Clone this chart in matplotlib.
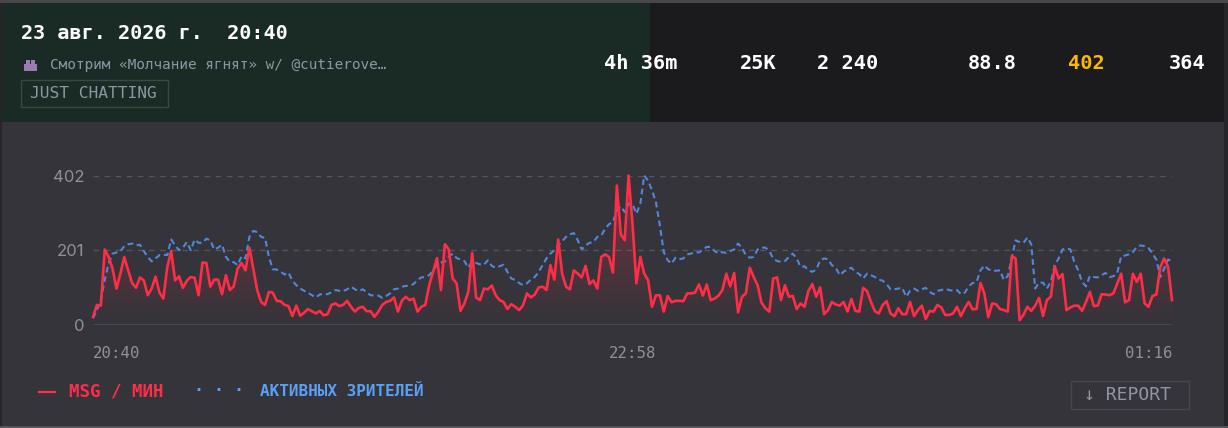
import numpy as np
import matplotlib
matplotlib.use("Agg")
import matplotlib.pyplot as plt
from matplotlib.patches import Rectangle

# messages per minute, one value per minute of the stream
msg_per_min = [
    22, 54, 52, 203, 183, 152, 98, 138, 183, 147, 113, 100, 128, 120, 80, 98, 130, 87, 71, 156,
    199, 120, 131, 100, 119, 129, 127, 80, 168, 167, 103, 122, 122, 83, 134, 94, 104, 152, 167, 147,
    208, 152, 94, 62, 54, 89, 87, 65, 64, 54, 51, 24, 52, 25, 33, 43, 37, 31, 38, 26,
    29, 54, 58, 51, 54, 65, 49, 36, 46, 49, 37, 37, 22, 36, 54, 62, 65, 74, 36, 65,
    76, 67, 71, 36, 49, 54, 107, 143, 180, 94, 217, 204, 125, 112, 38, 58, 89, 194, 74, 67,
    98, 96, 106, 80, 67, 62, 43, 56, 49, 40, 53, 85, 74, 82, 101, 103, 94, 161, 122, 230,
    138, 103, 96, 147, 138, 128, 159, 110, 120, 98, 183, 190, 183, 141, 375, 244, 228, 402, 272, 112,
    183, 138, 120, 49, 80, 80, 36, 78, 61, 65, 65, 64, 85, 85, 87, 109, 79, 109, 67, 71,
    79, 94, 138, 104, 140, 34, 76, 85, 154, 129, 107, 60, 45, 36, 125, 128, 67, 107, 76, 78,
    43, 58, 49, 92, 110, 76, 101, 29, 40, 62, 55, 52, 62, 36, 70, 38, 36, 100, 91, 62,
    37, 31, 54, 64, 31, 24, 45, 29, 29, 62, 24, 40, 52, 16, 38, 36, 54, 47, 27, 27,
    31, 49, 24, 45, 62, 42, 43, 113, 85, 21, 58, 56, 43, 40, 36, 185, 179, 13, 27, 49,
    38, 52, 73, 24, 67, 76, 158, 125, 137, 40, 47, 52, 52, 38, 62, 89, 51, 52, 83, 82,
    80, 85, 112, 138, 61, 67, 138, 116, 138, 58, 49, 78, 82, 156, 179, 156, 67,
]

# active viewers, drawn on the same scale as the messages
viewers = [
    18, 40, 67, 121, 165, 192, 195, 198, 212, 217, 219, 214, 216, 199, 183, 171, 179, 188, 189, 188,
    230, 214, 201, 208, 223, 201, 230, 221, 221, 232, 228, 203, 208, 216, 183, 170, 169, 161, 185, 179,
    237, 253, 250, 237, 234, 183, 150, 149, 143, 136, 141, 119, 107, 98, 92, 87, 80, 74, 82, 83,
    83, 88, 94, 92, 91, 96, 103, 96, 91, 96, 88, 80, 79, 79, 73, 78, 85, 96, 98, 103,
    105, 106, 110, 121, 128, 129, 134, 146, 163, 168, 171, 183, 192, 180, 176, 172, 154, 170, 167, 163,
    162, 174, 159, 154, 158, 162, 143, 125, 121, 113, 107, 112, 122, 129, 143, 161, 179, 192, 201, 214,
    225, 237, 244, 247, 228, 203, 214, 221, 223, 237, 240, 259, 271, 277, 308, 319, 304, 326, 326, 299,
    326, 402, 388, 362, 330, 268, 196, 174, 165, 181, 177, 179, 190, 192, 196, 195, 203, 210, 210, 199,
    192, 196, 194, 199, 203, 219, 208, 188, 181, 183, 203, 208, 208, 199, 179, 172, 170, 172, 183, 192,
    179, 156, 158, 147, 143, 149, 174, 179, 177, 161, 154, 134, 143, 150, 154, 143, 137, 125, 138, 134,
    129, 122, 119, 110, 96, 96, 98, 100, 76, 92, 98, 92, 96, 100, 89, 83, 92, 94, 97, 94,
    92, 94, 83, 87, 104, 113, 115, 147, 160, 150, 146, 146, 147, 121, 132, 179, 228, 223, 221, 235,
    217, 98, 114, 114, 98, 116, 161, 179, 203, 206, 203, 170, 147, 116, 104, 132, 129, 128, 134, 140,
    129, 131, 140, 185, 187, 190, 196, 210, 214, 212, 207, 192, 176, 129, 152, 176, 172,
]

minutes = np.arange(len(msg_per_min))
y_ticks = [0, 201, 402]
y_tick_labels = ["0", "201", "402"]
x_ticks = [0, 138, 276]
x_tick_labels = ["20:40", "22:58", "01:16"]

stat_labels = ["4h 36m", "25K", "2 240", "88.8", "402", "364"]
stat_right_px = [677, 777, 878, 1017, 1105, 1205]
stat_colors = ["#ffffff", "#ffffff", "#ffffff", "#ffffff", "#ffb800", "#ffffff"]

MONO = "DejaVu Sans Mono"
W, H = 1228, 428

fig = plt.figure(figsize=(W / 100, H / 100), dpi=100, facecolor="#35343a")

# page layer, in pixels, y going down
bg = fig.add_axes([0, 0, 1, 1], zorder=0)
bg.set_xlim(0, W)
bg.set_ylim(H, 0)
bg.axis("off")
bg.add_patch(Rectangle((0, 0), W, 122, color="#1b1b1d", lw=0))
bg.add_patch(Rectangle((0, 0), 650, 122, color="#1a2b26", lw=0))
bg.add_patch(Rectangle((0, 0), W, 2.5, color="#48484c", lw=0))
bg.add_patch(Rectangle((0, 2.5), 1.5, H, color="#26262a", lw=0))
bg.add_patch(Rectangle((1224, 2.5), 4, H, color="#26262a", lw=0))
bg.add_patch(Rectangle((0, 426), W, 2, color="#55545c", lw=0))

bg.text(21, 33, "23 авг. 2026 г.  20:40", family=MONO, weight="bold", fontsize=14.5,
        color="#ffffff", va="center")
# small purple icon in front of the title
bg.add_patch(Rectangle((24, 64), 13, 7, color="#9c7bb5", lw=0))
bg.add_patch(Rectangle((26, 60), 4, 4, color="#9c7bb5", lw=0))
bg.add_patch(Rectangle((31, 60), 4, 4, color="#9c7bb5", lw=0))
bg.text(50, 65, "Смотрим «Молчание ягнят» w/ @cutierove…", family=MONO, fontsize=10.4,
        color="#8d97a3", va="center")
bg.add_patch(Rectangle((20.5, 79.5), 147, 27, fill=False, ec="#3b4744", lw=1))
bg.text(30, 93, "JUST CHATTING", family=MONO, fontsize=11.7, color="#8d97a3", va="center")

for label, right, color in zip(stat_labels, stat_right_px, stat_colors):
    bg.text(right, 63, label, family=MONO, weight="bold", fontsize=14.6, color=color,
            ha="right", va="center")

# legend and button
bg.plot([39, 55], [391.5, 391.5], color="#ff2d46", lw=1.6)
bg.text(69, 391, "MSG / МИН", family=MONO, weight="bold", fontsize=12.6, color="#ff2d46", va="center")
bg.text(194, 391, "· · ·", family=MONO, weight="bold", fontsize=12, color="#5aa0f5",
        va="center")
bg.text(260, 391, "АКТИВНЫХ ЗРИТЕЛЕЙ", family=MONO, weight="bold", fontsize=11.5, color="#5aa0f5",
        va="center")
bg.add_patch(Rectangle((1071, 380.5), 118, 28, fill=False, ec="#47464d", lw=1))
bg.text(1084, 394.5, "↓ REPORT", family=MONO, fontsize=13, color="#8d97a3", va="center")

# chart: 93..1172 px wide, value 0 at y=325 and 402 at y=175.5
ax = fig.add_axes([93 / W, (H - 325) / H, 1079 / W, 149.5 / H], zorder=1)
ax.patch.set_alpha(0)
for s in ax.spines.values():
    s.set_visible(False)
ax.set_xlim(0, minutes[-1])
ax.set_ylim(0, 402)

ax.set_yticks(y_ticks, y_tick_labels)
ax.set_xticks(x_ticks, x_tick_labels)
ax.tick_params(length=0, labelcolor="#8f9099")
ax.tick_params(axis="y", pad=6, labelsize=12)
ax.tick_params(axis="x", pad=15, labelsize=11.3)
for tick, ha in zip(ax.get_xticklabels(), ["left", "center", "right"]):
    tick.set_ha(ha)
    tick.set_family(MONO)
for tick in ax.get_yticklabels():
    tick.set_family("Inter")

ax.axhline(201, color="#55545a", lw=1, dashes=(4, 4))
ax.axhline(402, color="#55545a", lw=1, dashes=(4, 4))
ax.axhline(0, color="#47464c", lw=1.6)

# red gradient under the messages line
grad = np.zeros((256, 2, 4))
grad[..., :3] = matplotlib.colors.to_rgb("#ff2d46")
grad[..., 3] = np.linspace(0.32, 0.0, 256)[:, None]
im = ax.imshow(grad, extent=(0, minutes[-1], 0, 402), aspect="auto", origin="upper", zorder=1)
fill = ax.fill_between(minutes, msg_per_min, 0, color="none", lw=0)
im.set_clip_path(fill.get_paths()[0], transform=ax.transData)

ax.plot(minutes, viewers, color="#5087dc", lw=1.5, dashes=(2.8, 1.8), zorder=2, clip_on=False)
ax.plot(minutes, msg_per_min, color="#ff2d46", lw=1.9, zorder=3, clip_on=False)

fig.savefig("out.png", dpi=100, facecolor=fig.get_facecolor())
